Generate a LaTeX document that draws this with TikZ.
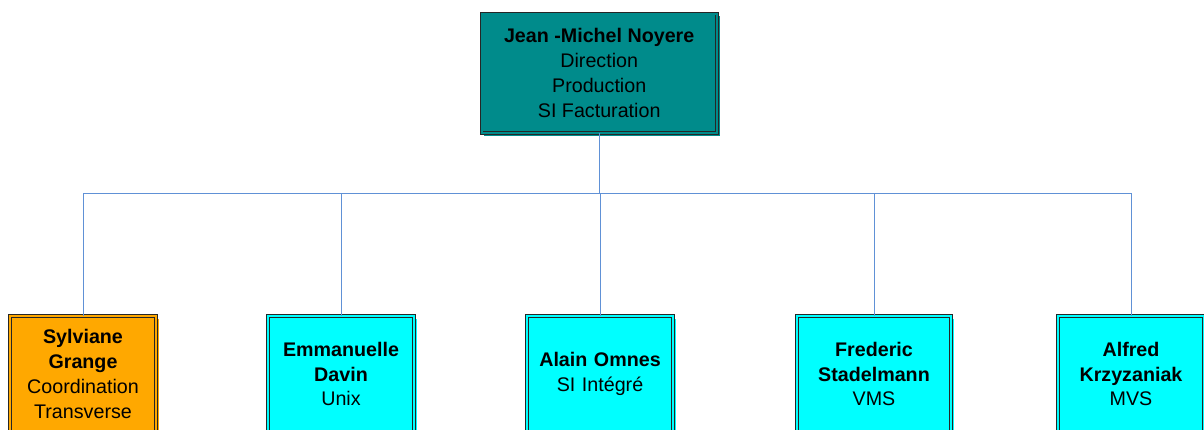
\documentclass[tikz,border=0pt]{standalone}
\usepackage{fontspec}
\setmainfont{Liberation Sans}
\usetikzlibrary{shadows,calc}

\definecolor{chiefteal}{RGB}{0,139,139}
\definecolor{staffcyan}{RGB}{0,255,255}
\definecolor{stafforange}{RGB}{255,168,0}
\definecolor{linkblue}{RGB}{96,145,214}

\begin{document}
\begin{tikzpicture}[unit/.style={rectangle,draw=black!85,line width=0.55pt,double distance=1.5pt,
                                 minimum height=2.9cm,inner sep=2pt,align=center,
                                 font=\fontsize{14}{17.7}\selectfont},
                    chief/.style={unit,fill=chiefteal,double=chiefteal,minimum width=5.88cm,minimum height=2.98cm,
                                  general shadow={fill=chiefteal,shadow xshift=0.07cm,shadow yshift=-0.07cm}},
                    staff/.style={unit,fill=#1,double=#1,minimum width=3.65cm,text width=3.5cm,
                                  general shadow={fill=#1,shadow xshift=0.07cm,shadow yshift=-0.07cm}},
                    staff/.default=staffcyan,
                    link/.style={linkblue,line width=0.7pt}]
            \useasboundingbox (0,0) rectangle (30.1,-10.75);
            \clip (0,0) rectangle (30.1,-10.75);

            % head of the department
            \node[chief] (noyere) at (14.98,-1.83) {\textbf{Jean -Michel Noyere}\\Direction\\Production\\SI Facturation};

            % team
            \node[staff=stafforange] (grange) at (2.075,-9.35) {\textbf{Sylviane}\\\textbf{Grange}\\Coordination\\Transverse};
            \node[staff] (davin) at (8.525,-9.35) {\textbf{Emmanuelle}\\\textbf{Davin}\\Unix};
            \node[staff] (omnes) at (15,-9.35) {\textbf{Alain Omnes}\\SI Intégré};
            \node[staff,minimum width=3.85cm] (stadelmann) at (21.85,-9.35) {\textbf{Frederic}\\\textbf{Stadelmann}\\VMS};
            \node[staff] (krzyzaniak) at (28.275,-9.35) {\textbf{Alfred}\\\textbf{Krzyzaniak}\\MVS};

            % connectors
            \coordinate (bus) at ($(noyere.south)+(0,-1.5)$);
            \draw[link] (noyere.south) -- (bus);
            \foreach \who in {grange,davin,omnes,stadelmann,krzyzaniak}
                \draw[link] (bus) -| (\who.north);
        \end{tikzpicture}
\end{document}
